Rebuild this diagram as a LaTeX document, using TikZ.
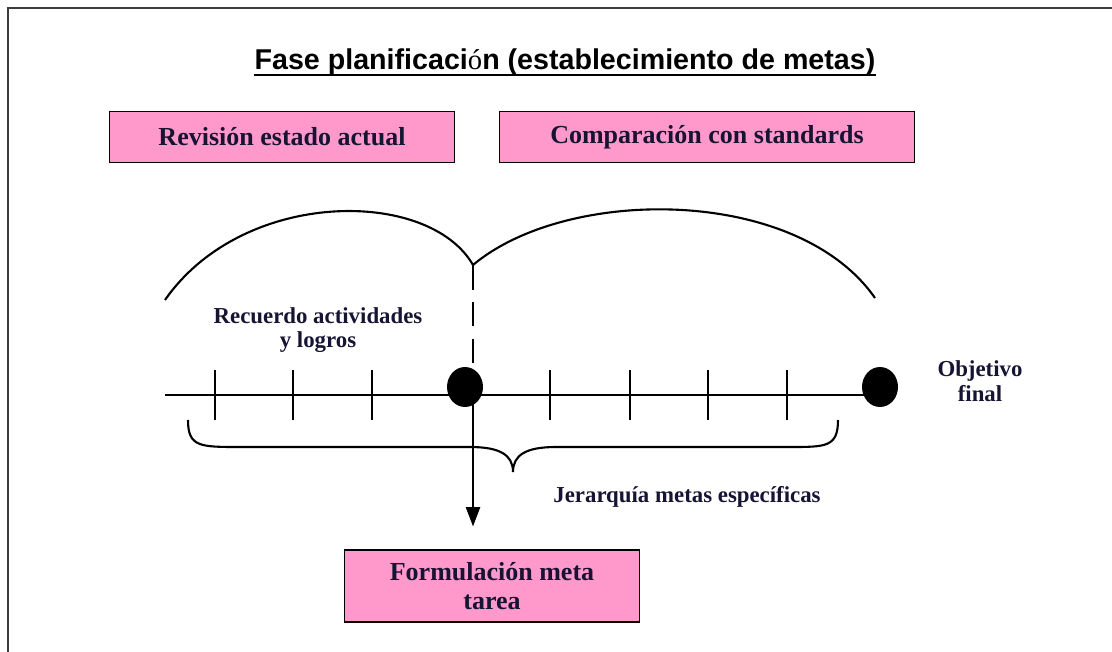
\documentclass[tikz,border=0pt]{standalone}
\usepackage{fontspec}
\setmainfont{Liberation Serif}
\setsansfont{Liberation Sans}
\usepackage{tikz}
\usetikzlibrary{arrows.meta, shapes.geometric}
\definecolor{boxpink}{RGB}{255, 153, 204}
\definecolor{textnavy}{RGB}{22, 20, 50}
\definecolor{framegray}{RGB}{60, 60, 60}

\begin{document}
\begin{tikzpicture}[x=0.02cm, y=-0.02cm,
        pinkbox/.style={draw=black, line width=0.8pt, fill=boxpink, text=textnavy,
            font=\fontsize{14.8}{16.5}\selectfont\bfseries, align=center, inner sep=0pt},
        smalllabel/.style={text=textnavy, font=\fontsize{13}{14}\selectfont\bfseries,
            align=center, inner sep=0pt},
        blackdot/.style={ellipse, fill=black, inner sep=0pt,
            minimum width=0.72cm, minimum height=0.8cm},
        thinline/.style={line width=1.2pt}]
        \useasboundingbox (0,0) rectangle (1112,652);
        % marco
        \draw[framegray, line width=1.2pt] (8,700) -- (8,8) -- (1200,8);
        
        % titulo
        \node[font=\fontsize{16.3}{19}\selectfont\sffamily\bfseries, inner sep=0pt, anchor=base] (title) at (565,70)
            {Fase planificaci{\rmfamily\mdseries ó}n (establecimiento de metas)};
        \draw[line width=1.3pt] ([yshift=-3pt]title.base west) -- ([yshift=-3pt]title.base east);
        
        % cajas
        \node[pinkbox, minimum width=6.9cm, minimum height=1.02cm] (revision) at (282,137) {Revisión estado actual};
        \node[pinkbox, minimum width=8.3cm, minimum height=1.02cm] (comparacion) at (707,137) {Comparación con standards};
        \node[pinkbox, minimum width=5.9cm, minimum height=1.44cm] (formulacion) at (492,586)
            {\raisebox{-2pt}{Formulación meta}\\\raisebox{-2pt}{tarea}};
        
        % puntos
        \coordinate (inicio) at (165,395);
        \coordinate (union) at (473,265);
        \node[blackdot] (actual) at (465,387) {};
        \node[blackdot] (final) at (880,387) {};
        
        % arcos
        \draw[thinline] (165,300) .. controls (243,188) and (429,188) .. (union)
            .. controls (567,186) and (797,186) .. (875,298);
        
        % linea de tiempo
        \draw[line width=1.6pt] (inicio) -- (inicio -| final);
        \foreach \x in {215,293,372,550,630,708,787}
            \draw[thinline] (\x,370) -- (\x,420);
        
        % discontinua
        \draw[thinline, dash pattern=on 14pt off 7pt] (union) -- (union |- actual.north);
        
        % llave
        \draw[thinline] (188,420) .. controls (188,447) and (200,447) .. (240,447) -- (470,447)
            .. controls (500,447) and (513,455) .. (513,472)
            .. controls (513,455) and (526,447) .. (556,447) -- (790,447)
            .. controls (826,447) and (838,447) .. (838,420);
        
        % flecha
        \draw[thinline, -{Triangle[width=8pt, length=11pt]}, shorten >=13pt]
            (union |- inicio) -- (union |- formulacion.north);
        
        % etiquetas
        \node[smalllabel] (recuerdo) at (318,330) {Recuerdo actividades\\y logros};
        \node[smalllabel] (objetivo) at (980,381) {Objetivo\\final};
        \node[smalllabel] (jerarquia) at (687,497) {Jerarquía metas específicas};
    \end{tikzpicture}
\end{document}
